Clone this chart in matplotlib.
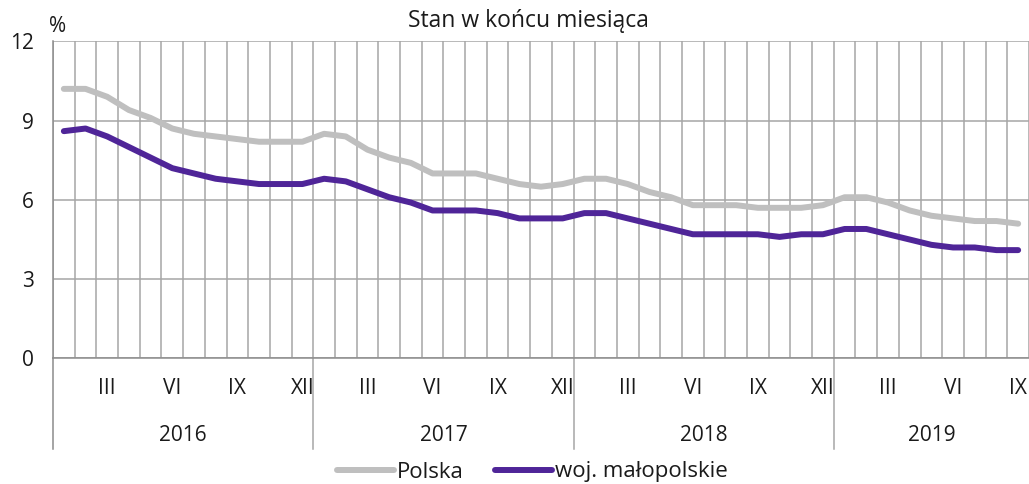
import numpy as np
import matplotlib
matplotlib.use("Agg")
import matplotlib.pyplot as plt
import matplotlib.transforms as mtransforms

plt.rcParams['font.family'] = ['Open Sans', 'DejaVu Sans']

years = ["2016", "2017", "2018", "2019"]
months_per_year = [12, 12, 12, 9]
month_labels = {2: "III", 5: "VI", 8: "IX", 11: "XII"}

polska = [10.2, 10.2, 9.9, 9.4, 9.1, 8.7, 8.5, 8.4, 8.3, 8.2, 8.2, 8.2,
          8.5, 8.4, 7.9, 7.6, 7.4, 7.0, 7.0, 7.0, 6.8, 6.6, 6.5, 6.6,
          6.8, 6.8, 6.6, 6.3, 6.1, 5.8, 5.8, 5.8, 5.7, 5.7, 5.7, 5.8,
          6.1, 6.1, 5.9, 5.6, 5.4, 5.3, 5.2, 5.2, 5.1]
malopolskie = [8.6, 8.7, 8.4, 8.0, 7.6, 7.2, 7.0, 6.8, 6.7, 6.6, 6.6, 6.6,
               6.8, 6.7, 6.4, 6.1, 5.9, 5.6, 5.6, 5.6, 5.5, 5.3, 5.3, 5.3,
               5.5, 5.5, 5.3, 5.1, 4.9, 4.7, 4.7, 4.7, 4.7, 4.6, 4.7, 4.7,
               4.9, 4.9, 4.7, 4.5, 4.3, 4.2, 4.2, 4.1, 4.1]
series_names = ["Polska", "woj. małopolskie"]
colors = ["#bfbfbf", "#4f2598"]

n = len(polska)
x = np.arange(n) + 0.5

FS = 15
fig = plt.figure(figsize=(10.29, 4.84), dpi=100)
ax = fig.add_axes([0.0515, 0.2593, 1.0 - 0.0515, 0.9147 - 0.2593])

ax.set_xlim(0, n)
ax.set_ylim(0, 12)

grid_col = "#a6a6a6"
ax.set_yticks([0, 3, 6, 9, 12])
ax.set_yticklabels(["0", "3", "6", "9", "12"], fontsize=FS, color="#1a1a1a")
ax.yaxis.grid(True, color=grid_col, lw=1.1)
ax.set_xticks(np.arange(0, n + 1), minor=False)
ax.set_xticklabels([])
ax.xaxis.grid(True, color=grid_col, lw=1.1)
ax.tick_params(axis='both', length=0, pad=14)
ax.set_axisbelow(True)

for s in ["top", "right"]:
    ax.spines[s].set_visible(False)
for s in ["left", "bottom"]:
    ax.spines[s].set_color("#8c8c8c")
    ax.spines[s].set_linewidth(1.1)

lines = []
for vals, name, c in zip([polska, malopolskie], series_names, colors):
    ln, = ax.plot(x, vals, color=c, lw=4.3, solid_capstyle='round',
                  solid_joinstyle='round', label=name, clip_on=False, zorder=3)
    lines.append(ln)

trans = mtransforms.blended_transform_factory(ax.transData, ax.transAxes)
sep_bottom = -0.285
start = 0
ax.plot([0, 0], [0, sep_bottom], transform=trans, color="#8c8c8c", lw=1.1, clip_on=False)
for yr, m in zip(years, months_per_year):
    for k in range(m):
        if k in month_labels:
            ax.text(start + k + 0.5, -0.095, month_labels[k], transform=trans,
                    ha='center', va='center', fontsize=FS, color="#1a1a1a")
    ax.text(start + m / 2.0, -0.243, yr, transform=trans, ha='center', va='center',
            fontsize=FS, color="#1a1a1a")
    end = start + m
    if end < n:
        ax.plot([end, end], [0, sep_bottom], transform=trans, color="#a6a6a6",
                lw=1.1, clip_on=False)
    start = end

fig.text(58 / 1029, 1 - 27 / 484, "%", ha='center', va='center', fontsize=FS,
         color="#1a1a1a")
fig.text(528 / 1029, 1 - 21 / 484, "Stan w końcu miesiąca", ha='center', va='center',
         fontsize=16.5, color="#1a1a1a")

leg = fig.legend(handles=lines, loc='center', bbox_to_anchor=(532 / 1029, 1 - 472 / 484),
                 ncol=2, frameon=False, fontsize=16, handlelength=2.6,
                 handletextpad=0.1, columnspacing=1.4, borderaxespad=0)
for t in leg.get_texts():
    t.set_color("#1a1a1a")

fig.savefig("out.png", dpi=100)
